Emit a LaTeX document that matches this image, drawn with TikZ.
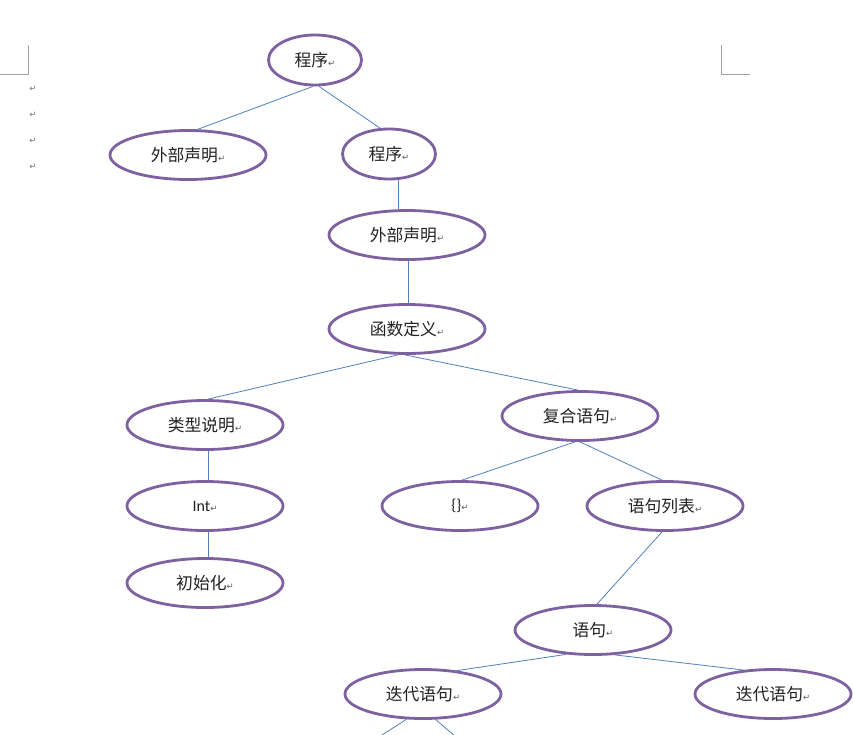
\documentclass[tikz,border=0pt]{standalone}
\usepackage{fontspec}
\setmainfont{Carlito}
\newfontfamily\cjk{Noto Sans CJK SC}
\newfontfamily\symf{DejaVu Sans}
\usetikzlibrary{shapes.geometric}
\definecolor{purp}{HTML}{7E61A0}
\definecolor{lnk}{HTML}{4F81BD}
\definecolor{txt}{HTML}{222222}
\definecolor{mk}{HTML}{A0A0A0}
\newcommand{\pmark}{{\symf\fontsize{8.5}{9}\selectfont\color{black!65}↵}}
\tikzset{
  ell/.style={ellipse, draw=purp, line width=2.8pt, minimum width=156pt, minimum height=49pt, inner sep=0pt, text=txt, font=\cjk\fontsize{16.8}{18}\selectfont},
  ells/.style={ell, minimum width=93pt, minimum height=50pt},
  link/.style={draw=lnk, line width=0.8pt},
  crop/.style={draw=mk, line width=0.8pt},
  retmark/.style={inner sep=0pt, font=\symf\fontsize{8.5}{9}\selectfont, text=black!55}
}
\begin{document}
\begin{tikzpicture}[x=1pt,y=-1pt]
\useasboundingbox (0,0) rectangle (853,734);
\fill[white] (0,0) rectangle (853,734);
% crop marks
\coordinate (cl1) at (28,45); \coordinate (cl2) at (28,74); \coordinate (cl3) at (0,74);
\draw[crop] (cl1) -- (cl2) -- (cl3);
\coordinate (cr1) at (721,45); \coordinate (cr2) at (721,74); \coordinate (cr3) at (750,74);
\draw[crop] (cr1) -- (cr2) -- (cr3);
% paragraph marks on the left
\node[retmark] (r1) at (33,89) {↵};
\node[retmark] (r2) at (33,115) {↵};
\node[retmark] (r3) at (33,141) {↵};
\node[retmark] (r4) at (33,167) {↵};
% nodes
\node[ells] (p1) at (315,60) {程序\pmark};
\node[ell]  (e1) at (188,155) {外部声明\pmark};
\node[ells] (p2) at (389,154) {程序\pmark};
\node[ell]  (e2) at (407,235) {外部声明\pmark};
\node[ell]  (f)  at (407,329) {函数定义\pmark};
\node[ell]  (t)  at (205,425) {类型说明\pmark};
\node[ell]  (c)  at (580,416) {复合语句\pmark};
\node[ell]  (int) at (205,506) {{\fontspec{Carlito}\fontsize{16}{18}\selectfont Int}\pmark};
\node[ell]  (br) at (460,506) {{\fontspec{Carlito}\fontsize{16}{18}\selectfont \{\}}\pmark};
\node[ell]  (lst) at (665,506) {语句列表\pmark};
\node[ell]  (ini) at (205,583) {初始化\pmark};
\node[ell]  (s)  at (593,630) {语句\pmark};
\node[ell]  (iL) at (423,694) {迭代语句\pmark};
\node[ell]  (iR) at (773,694) {迭代语句\pmark};
\coordinate (o1) at (379,737);
\coordinate (o2) at (456,737);
% connectors
\draw[link] ([xshift=-2pt]p1.south) -- ([xshift=9pt,yshift=-0.5pt]e1.north);
\draw[link] ([xshift=4pt]p1.south) -- ([xshift=-9pt,yshift=-0.5pt]p2.north);
\draw[link] ([xshift=9pt]p2.south) -- ([xshift=-9pt]e2.north);
\draw[link] ([xshift=1pt]e2.south) -- ([xshift=1pt]f.north);
\draw[link] ([xshift=-9pt]f.south) -- ([xshift=3pt]t.north);
\draw[link] ([xshift=-2pt]f.south) -- ([xshift=-2pt]c.north);
\draw[link] ([xshift=3pt]t.south) -- ([xshift=3pt]int.north);
\draw[link] ([xshift=3pt]int.south) -- ([xshift=3pt]ini.north);
\draw[link] ([xshift=-5pt]c.south) -- ([xshift=2pt]br.north);
\draw[link] ([xshift=0pt]c.south) -- ([xshift=-3pt]lst.north);
\draw[link] ([xshift=-3pt]lst.south) -- ([xshift=4pt]s.north);
\draw[link] ([xshift=-27pt,yshift=1.5pt]s.south) -- ([xshift=34pt,yshift=-2.5pt]iL.north);
\draw[link] ([xshift=22pt,yshift=1pt]s.south) -- ([xshift=-29pt,yshift=-2pt]iR.north);
\draw[link] ([xshift=-16pt,yshift=1pt]iL.south) -- (o1);
\draw[link] ([xshift=12pt,yshift=1pt]iL.south) -- (o2);
\end{tikzpicture}
\end{document}
